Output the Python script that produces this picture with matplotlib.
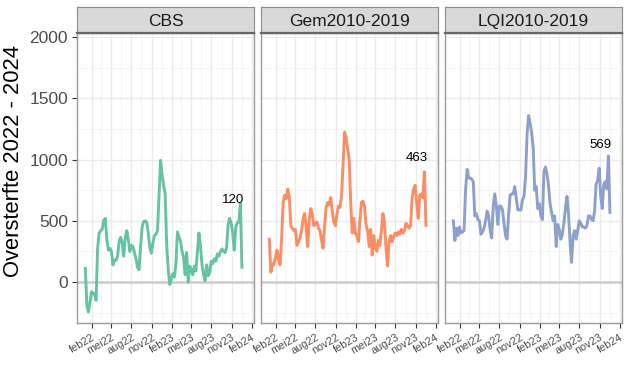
import numpy as np
import matplotlib
matplotlib.use('Agg')
import matplotlib.pyplot as plt

plt.rcParams['font.family'] = ['Liberation Sans', 'DejaVu Sans']

# weekly dates (Mondays), Jan 2022 .. Dec 2023
weeks = np.arange(np.datetime64('2022-01-03'), np.datetime64('2023-12-19'), np.timedelta64(7, 'D'))

cbs = [110, -190, -245, -170, -80, -90, -100, -150,
       280, 400, 420, 430, 505, 520,
       350, 260, 275, 250, 140, 180, 178, 210,
       330, 365, 320, 210, 365, 420, 345, 250,
       300, 290, 240, 190, 120, 100,
       290, 450, 495, 500, 490, 400,
       280, 235, 320, 380, 390, 420, 700,
       995,
       870, 790, 720,
       300, 100, -20, 30, 68, 40,
       150, 410, 370, 335, 250, 200,
       60, 240, 0, 130, 100, 60, 130, 90,
       250, 400, 290, 140, 60, 10, 140, 50,
       80, 170, 150, 190, 170, 230, 210, 250,
       270, 250, 240, 280, 470, 520, 480, 400,
       260, 450, 485, 490, 640, 120]

gem = [350, 80, 150, 140, 200, 260, 180, 140,
       350, 650, 710, 680, 760, 700,
       460, 440, 420, 430, 300, 330, 360, 420,
       520, 560, 440, 290, 510, 600, 550, 460,
       480, 490, 440, 420, 340, 275,
       460, 610, 650, 630, 690, 580,
       490, 460, 550, 620, 610, 700, 950,
       1225,
       1180, 1090, 1000,
       650, 400, 520, 400, 380, 330,
       500, 650, 660, 620, 470, 420,
       290, 430, 220, 380, 290, 250, 340, 300,
       420, 560, 480, 280, 130, 330, 380, 330,
       370, 400, 380, 410, 390, 430, 400, 420,
       480, 460, 440, 460, 690, 760, 790, 640,
       520, 710, 720, 690, 900, 463]

lqi = [500, 340, 440, 380, 450, 400, 410, 420,
       760, 920, 850, 850, 840, 820,
       540, 560, 510, 500, 390, 410, 440, 500,
       580, 540, 420, 360, 620, 720, 620, 470,
       620, 620, 590, 480, 380, 350,
       550, 710, 720, 720, 780, 680,
       590, 588, 588, 670, 700, 850, 1200,
       1360,
       1300, 1220, 1100,
       750, 780, 600, 640, 540, 510,
       900, 940, 880, 790, 640, 570,
       500, 540, 290, 470, 430, 350, 390, 480,
       600, 700, 560, 330, 160, 380, 420, 350,
       420, 500, 480, 450, 450, 440, 460, 540,
       540, 510, 500, 580, 800, 830, 930, 700,
       600, 800, 820, 760, 1030, 569]

panels = ['CBS', 'Gem2010-2019', 'LQI2010-2019']
series = [cbs, gem, lqi]
colors = ['#66C2A5', '#FC8D62', '#8DA0CB']
label_y = [672, 1015, 1122]

tick_dates = np.array(['2022-02-01', '2022-05-01', '2022-08-01', '2022-11-01', '2023-02-01',
                       '2023-05-01', '2023-08-01', '2023-11-01', '2024-02-01'], dtype='datetime64[D]')
tick_labels = ['feb22', 'mei22', 'aug22', 'nov22', 'feb23', 'mei23', 'aug23', 'nov23', 'feb24']
minor_dates = tick_dates[:-1] + (tick_dates[1:] - tick_dates[:-1]) // 2

W, H = 629, 389
fig = plt.figure(figsize=(W / 100, H / 100), dpi=100)

lefts = [77, 261, 445]
pw = 177
ptop, pbot = 33, 323
stop = 7

for i in range(3):
    ax = fig.add_axes([lefts[i] / W, 1 - pbot / H, pw / W, (pbot - ptop) / H])
    ax.set_facecolor('white')
    ax.set_xlim(np.datetime64('2021-11-26'), np.datetime64('2024-02-11'))
    ax.set_ylim(-335, 2035)
    ax.set_yticks([0, 500, 1000, 1500, 2000])
    ax.set_yticks([-250, 250, 750, 1250, 1750], minor=True)
    ax.set_xticks(tick_dates)
    ax.set_xticks(minor_dates, minor=True)
    ax.grid(True, which='major', color='#EBEBEB', lw=1.0)
    ax.grid(True, which='minor', color='#F4F4F4', lw=0.6)
    ax.set_axisbelow(True)
    ax.axhline(0, color='#CCCCCC', lw=1.8, zorder=1)
    ax.plot(weeks, series[i], color=colors[i], lw=2.1, zorder=3)
    ax.text(weeks[96], label_y[i], str(series[i][-1]), ha='center', va='center',
            fontsize=9.5, color='black', zorder=4)
    ax.set_xticklabels(tick_labels, rotation=30, ha='right', rotation_mode='anchor',
                       fontsize=7.8, color='#4D4D4D')
    ax.tick_params(axis='x', which='major', length=3.5, width=0.8, color='#333333', pad=3)
    ax.tick_params(which='minor', length=0)
    if i == 0:
        ax.set_yticklabels(['0', '500', '1000', '1500', '2000'], fontsize=12.5, color='#4D4D4D')
        ax.tick_params(axis='y', which='major', length=3.5, width=0.8, color='#333333', pad=3)
    else:
        ax.tick_params(axis='y', which='major', length=0, labelleft=False)
    for s in ax.spines.values():
        s.set_color('#9A9A9A')
        s.set_linewidth(1.0)

    sax = fig.add_axes([lefts[i] / W, 1 - ptop / H, pw / W, (ptop - stop) / H])
    sax.set_facecolor('#D9D9D9')
    sax.set_xticks([])
    sax.set_yticks([])
    for s in sax.spines.values():
        s.set_color('#8C8C8C')
        s.set_linewidth(0.8)
    sax.spines['bottom'].set_color('#666666')
    sax.spines['bottom'].set_linewidth(1.6)
    sax.text(0.5, 0.45, panels[i], ha='center', va='center', fontsize=12.5,
             color='#1A1A1A', transform=sax.transAxes)

fig.text(14 / W, 1 - 161 / H, 'Oversterfte 2022 - 2024', rotation=90, ha='center',
         va='center', fontsize=15.8, color='black')

fig.savefig('out.png', dpi=100)
